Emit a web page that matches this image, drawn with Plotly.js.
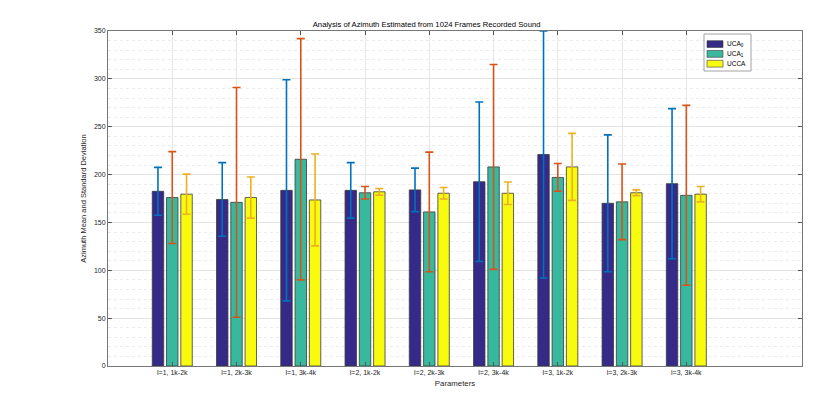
<!DOCTYPE html>
<html>
<head>
<meta charset="utf-8">
<script src="https://cdn.plot.ly/plotly-3.0.1.min.js"></script>
<style>html,body{margin:0;padding:0;background:#fff;}#chart{width:830px;height:411px;}</style>
</head>
<body>
<div id="chart"></div>
<script>
var categories = ["l=1, 1k-2k","l=1, 2k-3k","l=1, 3k-4k","l=2, 1k-2k","l=2, 2k-3k","l=2, 3k-4k","l=3, 1k-2k","l=3, 2k-3k","l=3, 3k-4k"];
var seriesNames = ["UCA<sub>0</sub>","UCA<sub>1</sub>","UCCA"];
var meanUCA0 = [182.5, 174, 183.5, 183.5, 184, 192.5, 221, 170, 190.5];
var stdUCA0  = [25, 38.5, 115.5, 29, 22.7, 83.3, 129, 71.5, 78.4];
var meanUCA1 = [176, 171, 216, 181, 161, 208, 197, 171.5, 178.3];
var stdUCA1  = [48, 120, 126, 6.5, 62.5, 107, 14.5, 39.5, 94];
var meanUCCA = [179.5, 176, 173.5, 182, 180.5, 180.5, 208, 181, 179.5];
var stdUCCA  = [21, 21.5, 48, 3.5, 6, 11.7, 35, 3, 8];

var barColors = ["#352A87", "#38B99E", "#F9FB0E"];
var errColors = ["#0072BD", "#D95319", "#EDB120"];
var means = [meanUCA0, meanUCA1, meanUCCA];
var stds = [stdUCA0, stdUCA1, stdUCCA];

var traces = means.map(function(m, i){
  return {
    type: 'bar',
    name: seriesNames[i],
    x: categories,
    y: m,
    marker: {color: barColors[i], line: {color: '#3a3a3a', width: 0.8}},
    error_y: {type: 'data', array: stds[i], visible: true, color: errColors[i], thickness: 1.6, width: 4}
  };
});

// plot area in pixels
var PL = 108, PR = 802, PT = 31, PB = 366;
function px(x){ return (x - PL) / (PR - PL); }
function py(y){ return (PB - y) / (PB - PT); }

// custom compact legend (MATLAB style)
var shapes = [{
  type: 'rect', xref: 'paper', yref: 'paper',
  x0: px(704), x1: px(751), y0: py(71), y1: py(34),
  fillcolor: '#fff', line: {color: '#8c8c8c', width: 0.8}, layer: 'above'
}];
var annotations = [];
var rowTop = [40.7, 50.5, 60.3];
seriesNames.forEach(function(n, i){
  shapes.push({
    type: 'rect', xref: 'paper', yref: 'paper',
    x0: px(707), x1: px(723), y0: py(rowTop[i] + 6.8), y1: py(rowTop[i]),
    fillcolor: barColors[i], line: {color: '#3a3a3a', width: 0.6}, layer: 'above'
  });
  annotations.push({
    xref: 'paper', yref: 'paper', x: px(724.5), y: py(rowTop[i] + 3.4),
    xanchor: 'left', yanchor: 'middle', showarrow: false,
    text: n, font: {size: 6.5, color: '#000'}
  });
});

var layout = {
  width: 830, height: 411,
  margin: {l: PL, r: 830 - PR, t: PT, b: 411 - PB},
  paper_bgcolor: '#fff', plot_bgcolor: '#fff',
  font: {family: 'Liberation Sans, Arial, sans-serif', size: 7, color: '#262626'},
  title: {text: 'Analysis of Azimuth Estimated from 1024 Frames Recorded Sound', font: {size: 7.7, color: '#000'}, x: 0.514, xanchor: 'center', y: 0.94, yanchor: 'middle'},
  barmode: 'group',
  bargap: 0.333,
  bargroupgap: 0.2,
  showlegend: false,
  shapes: shapes,
  annotations: annotations,
  xaxis: {
    type: 'category',
    range: [-1, 9.8],
    showgrid: true, gridcolor: '#e6e6e6', gridwidth: 1,
    ticks: 'inside', ticklen: 4, tickcolor: '#555',
    showline: true, linecolor: '#777', linewidth: 1, mirror: 'ticks',
    tickfont: {size: 7, color: '#262626'},
    title: {text: 'Parameters', font: {size: 7.8, color: '#262626'}, standoff: 5},
    zeroline: false
  },
  yaxis: {
    range: [0, 350],
    dtick: 50,
    showgrid: true, gridcolor: '#e3e3e3', gridwidth: 1,
    minor: {dtick: 10, showgrid: true, gridcolor: '#ececec', griddash: 'dot', gridwidth: 1, ticks: ''},
    ticks: 'inside', ticklen: 4, tickcolor: '#555',
    showline: true, linecolor: '#777', linewidth: 1, mirror: 'ticks',
    tickfont: {size: 7, color: '#262626'},
    title: {text: 'Azimuth Mean and Standard Deviation', font: {size: 7.5, color: '#262626'}, standoff: 6},
    zeroline: false
  }
};

Plotly.newPlot('chart', traces, layout, {displayModeBar: false, staticPlot: true});
</script>
</body>
</html>
